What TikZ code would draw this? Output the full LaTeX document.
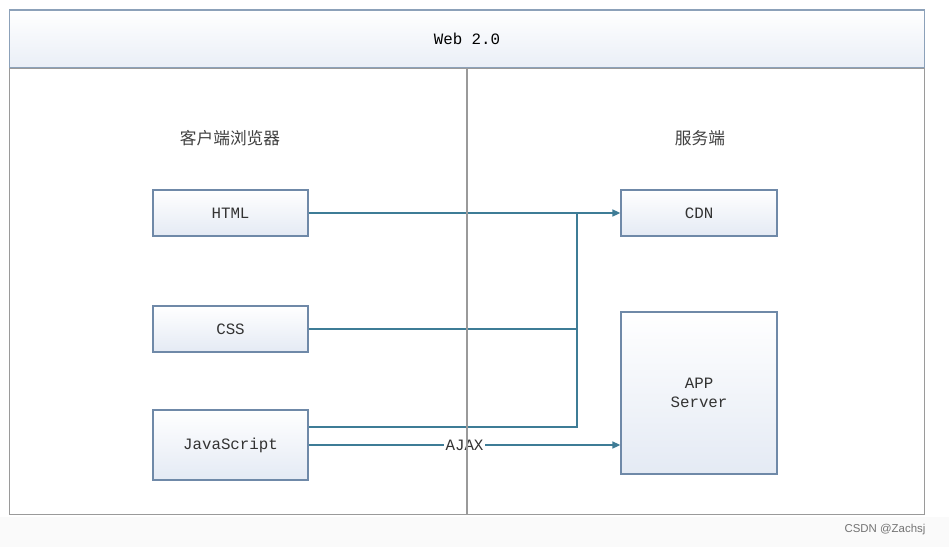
\documentclass[tikz,border=0pt]{standalone}
\usepackage{fontspec}
\setmonofont{Liberation Mono}
\setsansfont{Liberation Sans}
\newfontfamily\cjk{Noto Sans CJK SC}
\usetikzlibrary{arrows.meta}

\definecolor{boxline}{HTML}{6F89A8}
\definecolor{boxfill}{HTML}{E4EAF4}
\definecolor{wire}{HTML}{3E7C96}
\definecolor{framegray}{HTML}{9A9A9A}

\tikzset{
	box/.style={draw=boxline, line width=0.8pt, top color=white, bottom color=boxfill,
		minimum width=3.1cm, inner sep=0pt, align=center,
		font=\ttfamily\fontsize{9}{11}\selectfont, text=black!80},
	wire/.style={draw=wire, line width=0.8pt},
	title/.style={font=\cjk\fontsize{9.5}{11}\selectfont, text=black!75}
}

\begin{document}
\begin{tikzpicture}[x=0.02cm,y=-0.02cm]
\useasboundingbox (0,0) rectangle (949,547);
\fill[black!2] (0,517) rectangle (949,547);

\node[draw=boxline!80, line width=0.6pt, top color=white, bottom color=boxfill!80,
	minimum width=18.32cm, minimum height=1.16cm, inner sep=0pt,
	font=\ttfamily\fontsize{9}{11}\selectfont] (head) at (467,39) {Web 2.0};
\node[draw=framegray, line width=0.6pt, fill=white,
	minimum width=18.32cm, minimum height=8.94cm, inner sep=0pt] (body) at (467,291.5) {};

\node[title] (client) at (230,138) {客户端浏览器};
\node[title] (server) at (700,138) {服务端};

\node[box, minimum height=0.92cm] (html) at (230.5,213) {HTML};
\node[box, minimum height=0.92cm] (css) at (230.5,329) {CSS};
\node[box, minimum height=1.4cm] (js) at (230.5,445) {JavaScript};

\node[box, minimum width=3.12cm, minimum height=0.92cm] (cdn) at (699,213) {CDN};
\node[box, minimum width=3.12cm, minimum height=3.24cm] (app) at (699,393) {APP\\Server};

\coordinate (tap) at (577,213);

\draw[wire, -{Triangle[length=4.5pt,width=4pt]}] (html.east) -- (cdn.west);
\draw[wire] (css.east) -- (css.east -| tap);
\draw[wire] ([yshift=0.36cm]js.east) -| (tap);
\draw[wire, -{Triangle[length=4.5pt,width=4pt]}] (js.east) --
	node[fill=white, inner sep=1pt, font=\ttfamily\fontsize{9}{11}\selectfont, text=black!80] (ajax) {AJAX}
	(app.west |- js.east);

\draw[framegray, line width=0.6pt] (head.south) -- (body.south);

\node[font=\sffamily\fontsize{6.5}{8}\selectfont, text=black!55] (mark) at (885,530) {CSDN @Zachsj};
\end{tikzpicture}
\end{document}
